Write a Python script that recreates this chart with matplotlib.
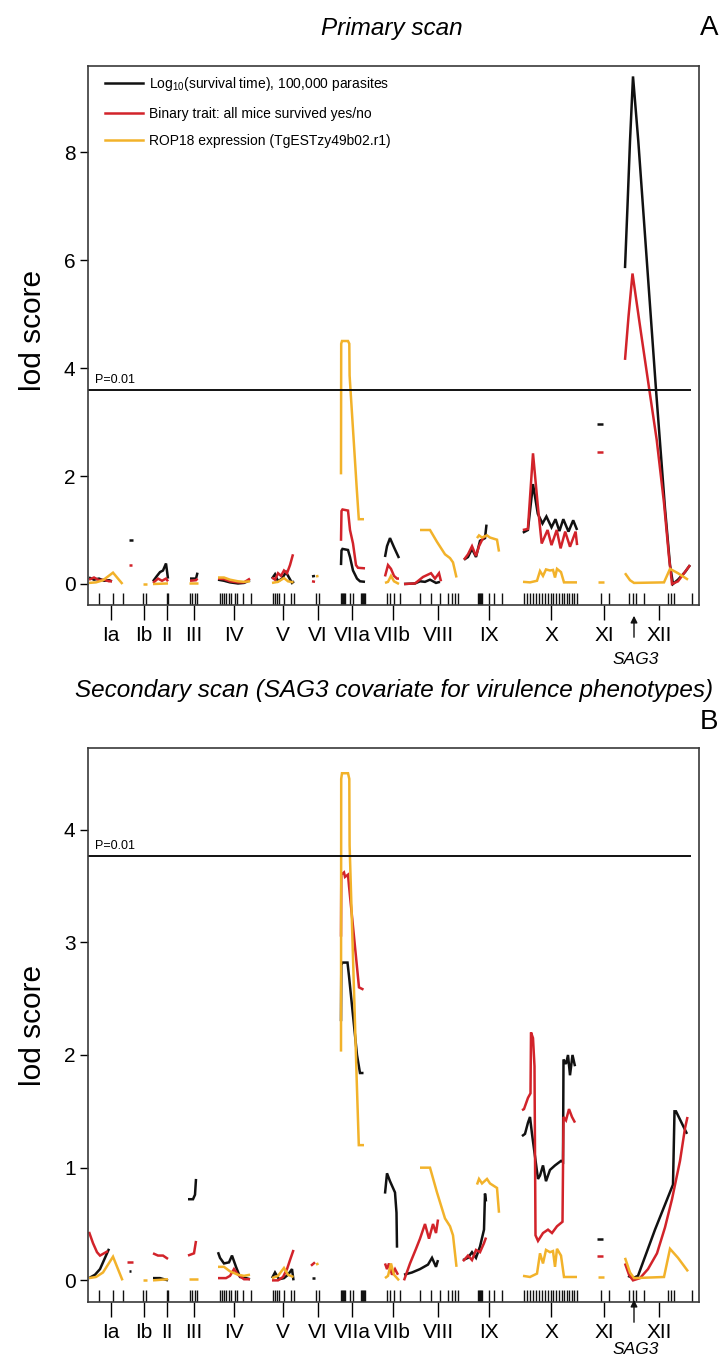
import numpy as np
import matplotlib
matplotlib.use('Agg')
import matplotlib.pyplot as plt
from matplotlib.lines import Line2D
from matplotlib import font_manager

plt.rcParams['font.family'] = ['Liberation Sans', 'DejaVu Sans']
plt.rcParams['mathtext.fontset'] = 'custom'
plt.rcParams['mathtext.rm'] = 'Liberation Sans'

# genome layout (position along the scan, arbitrary map units)
chr_names = ['Ia', 'Ib', 'II', 'III', 'IV', 'V', 'VI', 'VIIa', 'VIIb', 'VIII', 'IX', 'X', 'XI', 'XII']
chr_mid = [111, 144, 167, 193.5, 234, 282.5, 317.5, 352, 392.5, 438, 488.5, 551, 604, 659]
chr_breaks = [125, 149.5, 178, 207.5, 261, 302, 329.5, 374.5, 401.5, 460, 511.5, 587, 616]
markers = [99, 113, 122.5, 143, 146, 166.5, 167.5, 189.5, 192, 194.5, 197,
           220, 222, 224, 226, 228.5, 231, 234.5, 237, 242.5, 250.5,
           272.5, 274.5, 276.5, 278.5, 284, 290.5, 294, 316, 319,
           341, 342, 343, 344, 345, 350, 353, 360.5, 361.5, 362.5, 363.5, 364.5,
           387, 390, 394, 399.5, 420, 430.5, 439.5, 447.5, 451.5, 454.5, 457.5,
           478, 479, 480, 481, 482, 488.5, 494, 501.5,
           523.5, 526.5, 529.5, 532.5, 535.5, 538.5, 541.5, 545, 548, 550.5,
           553, 556, 559, 561.5, 564, 566.5, 569, 571.5, 574, 577,
           601, 609, 629, 633, 635.5, 643.5, 668, 671, 674, 691.5]
sag3_pos = 634

# ROP18 expression (same in both scans)
rop_pos = [89, 96, 103, 113, 122.5,
           143, 147,
           153, 168,
           189, 197.5,
           218, 224, 230, 238, 244, 250,
           272, 278, 284, 288, 293.5,
           316, 318.5,
           341, 341.2, 342, 348, 349.3, 349.6, 356.7, 358.8, 364,
           385, 388, 391, 394, 399,
           420, 430, 437, 445, 450, 453, 456.5,
           477, 479, 482, 487, 490, 497, 499,
           523, 530, 537, 540, 543, 546, 550, 553, 555, 557, 561, 564, 577,
           598, 604,
           625, 630, 634, 664, 670, 678, 688]
rop_lod = [0.02, 0.03, 0.07, 0.21, 0.0,
           0.0, 0.0,
           0.0, 0.01,
           0.01, 0.01,
           0.12, 0.12, 0.08, 0.05, 0.04, 0.05,
           0.02, 0.04, 0.11, 0.05, 0.03,
           0.14, 0.15,
           2.03, 4.45, 4.5, 4.5, 4.45, 3.86, 1.78, 1.2, 1.2,
           0.02, 0.04, 0.15, 0.05, 0.0,
           1.0, 1.0, 0.78, 0.55, 0.48, 0.4, 0.12,
           0.85, 0.9, 0.86, 0.9, 0.86, 0.82, 0.6,
           0.04, 0.03, 0.06, 0.24, 0.15, 0.27, 0.25, 0.26, 0.12, 0.28, 0.22, 0.03, 0.03,
           0.03, 0.03,
           0.2, 0.07, 0.02, 0.03, 0.28, 0.2, 0.08]

# primary scan: log10 survival time
surv_pos_a = [89, 94, 99, 104, 109, 112,
              129, 133,
              153, 157, 160, 163, 166, 168,
              190, 196, 197.5,
              218, 224, 230, 238, 244, 250,
              272, 275, 278, 282, 286, 289, 292, 294,
              312, 315,
              341, 341.5, 342.5, 348, 350, 353, 357, 360, 365,
              385, 387, 390, 394, 399,
              404, 415, 420, 425, 430, 436, 440,
              464, 468, 472, 476, 480, 485, 486.5,
              522.8, 527.9, 533, 537.8, 542.5, 546.4, 551.5, 555.5, 559.4, 563.3, 568.5, 573.2, 577.1,
              597, 603,
              625, 627.5, 630, 633, 638.3, 656, 665, 670, 673, 678, 685, 690]
surv_lod_a = [0.12, 0.08, 0.1, 0.06, 0.07, 0.05,
              0.81, 0.81,
              0.05, 0.15, 0.22, 0.25, 0.38, 0.1,
              0.1, 0.1, 0.21,
              0.08, 0.06, 0.03, 0.01, 0.02, 0.07,
              0.1, 0.18, 0.05, 0.1, 0.22, 0.12, 0.02, 0.05,
              0.14, 0.15,
              0.35, 0.62, 0.65, 0.63, 0.5, 0.25, 0.1, 0.05, 0.04,
              0.5, 0.7, 0.85, 0.68, 0.48,
              0.0, 0.01, 0.05, 0.04, 0.08, 0.02, 0.04,
              0.45, 0.5, 0.65, 0.5, 0.8, 0.85, 1.1,
              0.95, 1.0, 1.85, 1.3, 1.12, 1.25, 1.05, 1.2, 0.98, 1.2, 0.97, 1.18, 1.0,
              2.97, 2.97,
              5.85, 7.0, 8.2, 9.4, 8.2, 3.6, 1.4, 0.35, 0.0, 0.08, 0.22, 0.35]

# primary scan: binary trait
bin_pos_a = [89, 94, 99, 104, 109, 112,
             129, 132,
             153, 158, 162, 166, 168,
             190, 196, 197.5,
             218, 224, 230, 238, 244, 250,
             272, 275, 278, 281, 284, 287, 290, 293,
             312, 315,
             341, 341.5, 342.5, 348, 350, 353, 356, 358, 365,
             385, 388, 391, 394, 397, 399,
             404, 415, 423, 431, 435, 439, 441,
             464, 468, 472, 476, 479, 483, 486,
             522.8, 527.9, 533, 537.8, 541.7, 547.6, 551.5, 556.7, 560.6, 565.2, 570, 575.6, 577.1,
             597, 603,
             625, 628.5, 632.5, 641, 649.3, 656.7, 664, 669, 672, 678, 684, 690]
bin_lod_a = [0.08, 0.12, 0.07, 0.08, 0.05, 0.05,
             0.35, 0.35,
             0.02, 0.1, 0.06, 0.1, 0.05,
             0.06, 0.07, 0.1,
             0.1, 0.09, 0.05, 0.03, 0.03, 0.1,
             0.12, 0.08, 0.2, 0.15, 0.25, 0.2, 0.35, 0.55,
             0.05, 0.04,
             0.8, 1.35, 1.38, 1.36, 1.0, 0.75, 0.35, 0.3, 0.29,
             0.14, 0.35, 0.28, 0.15, 0.1, 0.1,
             0.0, 0.01, 0.13, 0.2, 0.1, 0.2, 0.05,
             0.45, 0.55, 0.7, 0.52, 0.7, 0.85, 0.9,
             1.0, 1.02, 2.42, 1.45, 0.75, 1.0, 0.72, 1.0, 0.66, 0.97, 0.69, 0.97, 0.72,
             2.45, 2.45,
             4.15, 4.95, 5.75, 4.65, 3.6, 2.67, 1.5, 0.5, 0.0, 0.05, 0.2, 0.35]

# secondary scan (SAG3 covariate): log10 survival time
surv_pos_b = [89, 95, 100, 105, 109,
              129, 131,
              153, 160, 168,
              188, 193, 195, 196,
              218, 220, 224, 229, 232, 236, 240, 246, 250,
              272, 275, 279, 284, 288, 292, 293.5,
              312, 314.5,
              341, 341.3, 342.5, 347.5, 349, 357, 360, 363.5,
              385, 387, 390, 395, 396.5, 397,
              404, 412, 420, 428, 432, 436, 438,
              463, 468, 472, 476, 480, 484, 485, 486,
              522, 525, 528, 530, 532, 535, 538, 540, 543, 546, 550, 555, 561, 563, 563.5, 566, 568, 570, 572.5, 575,
              597, 603,
              628, 633, 638, 655, 673, 674.5, 676, 687]
surv_lod_b = [0.02, 0.05, 0.1, 0.2, 0.28,
              0.08, 0.08,
              0.02, 0.02, 0.0,
              0.72, 0.72, 0.76, 0.9,
              0.25, 0.2, 0.15, 0.16, 0.22, 0.12, 0.03, 0.02, 0.01,
              0.02, 0.07, 0.01, 0.02, 0.05, 0.1, 0.0,
              0.02, 0.02,
              2.3, 2.8, 2.82, 2.82, 2.7, 2.0, 1.84, 1.84,
              0.77, 0.95, 0.88, 0.78, 0.6, 0.29,
              0.05, 0.07, 0.1, 0.14, 0.2, 0.12, 0.18,
              0.18, 0.2, 0.25, 0.2, 0.3, 0.45, 0.77, 0.7,
              1.28, 1.3, 1.4, 1.45, 1.3, 1.1, 0.9, 0.93, 1.02, 0.88, 0.98, 1.02, 1.06, 1.05, 1.96, 1.92, 2.0, 1.82, 2.0, 1.9,
              0.37, 0.37,
              0.04, 0.02, 0.04, 0.45, 0.85, 1.5, 1.5, 1.3]

# secondary scan (SAG3 covariate): binary trait
bin_pos_b = [89, 93, 97, 100, 104, 108,
             127, 133,
             153, 158, 163, 168,
             188, 194, 196,
             218, 226, 230, 234, 238, 244, 250,
             272, 278, 283, 287, 290, 293.5,
             311, 315,
             341, 341.3, 344, 345, 348, 349, 359, 363.5,
             385, 387, 389, 392, 395, 398,
             404, 410, 416, 420, 425, 429, 433, 436, 438,
             463, 468, 472, 476, 480, 484, 486,
             522, 524, 528, 530.5, 531, 533, 534.5, 535.5, 538, 543, 548, 552, 557, 562.5, 563.5, 566, 569, 572, 575,
             597, 603,
             625, 629, 633, 640, 648, 657, 665, 672, 680, 685, 687.5]
bin_lod_b = [0.43, 0.33, 0.25, 0.22, 0.24, 0.26,
             0.16, 0.16,
             0.24, 0.22, 0.22, 0.19,
             0.22, 0.24, 0.35,
             0.02, 0.02, 0.04, 0.1, 0.05, 0.01, 0.01,
             0.0, 0.0, 0.03, 0.1, 0.18, 0.27,
             0.13, 0.16,
             3.05, 3.6, 3.62, 3.58, 3.6, 3.5, 2.6, 2.58,
             0.15, 0.1, 0.15, 0.05, 0.1, 0.05,
             0.0, 0.15, 0.28, 0.37, 0.5, 0.37, 0.5, 0.42, 0.54,
             0.17, 0.22, 0.18, 0.27, 0.25, 0.33, 0.38,
             1.51, 1.52, 1.62, 1.66, 2.2, 2.15, 1.9, 0.4, 0.35, 0.42, 0.45, 0.42, 0.48, 0.52, 1.45, 1.42, 1.52, 1.45, 1.4,
             0.22, 0.22,
             0.15, 0.05, 0.0, 0.02, 0.1, 0.24, 0.47, 0.72, 1.06, 1.35, 1.45]

thresh_a = 3.6
thresh_b = 3.77

legend_labels = ['Log$_{\\mathregular{10}}$(survival time), 100,000 parasites',
                 'Binary trait: all mice survived yes/no',
                 'ROP18 expression (TgESTzy49b02.r1)']

BLACK = '#111111'
RED = '#d2232a'
GOLD = '#f2b22a'
LW = 1.8

# legend text in the original is a narrow face; use it if present
have_narrow = any(f.name == 'Liberation Sans Narrow' for f in font_manager.fontManager.ttflist)
if have_narrow:
    legend_font = {'family': ['Liberation Sans Narrow', 'DejaVu Sans'], 'size': 12.5}
else:
    legend_font = {'family': ['Liberation Sans', 'DejaVu Sans'], 'size': 10}


def draw_trace(ax, pos, lod, color):
    # one line per chromosome, broken between chromosomes
    pos = np.array(pos)
    lod = np.array(lod)
    chrom = np.searchsorted(chr_breaks, pos)
    for c in np.unique(chrom):
        sel = chrom == c
        ax.plot(pos[sel], lod[sel], color=color, lw=LW, solid_joinstyle='miter',
                solid_capstyle='butt')


def setup_axes(ax, ylim, yticks, thresh, rug_h, arrow_tip, arrow_base, sag_y):
    ax.set_xlim(88, 699)
    ax.set_ylim(ylim)
    ax.set_yticks(yticks)
    ax.set_xticks(chr_mid, chr_names)
    ax.tick_params(axis='x', length=11, width=1, pad=4, labelsize=15)
    ax.tick_params(axis='y', length=6, width=1, pad=3, labelsize=15)
    for s in ax.spines.values():
        s.set_color('#3a3a3a')
        s.set_linewidth(1.2)

    # marker rug
    ax.vlines(markers, 0, rug_h, transform=ax.get_xaxis_transform(), color=BLACK, lw=1)

    # significance threshold
    ax.hlines(thresh, 88, 691, color=BLACK, lw=1.4)
    ax.text(95, thresh + 0.007 * (ylim[1] - ylim[0]), 'P=0.01', fontsize=9, va='bottom', ha='left')

    # SAG3 arrow
    tr = ax.get_xaxis_transform()
    ax.annotate('', xy=(sag3_pos, arrow_tip), xycoords=tr, xytext=(sag3_pos, arrow_base),
                textcoords=tr, annotation_clip=False,
                arrowprops=dict(arrowstyle='-|>', color=BLACK, lw=1, mutation_scale=10))
    ax.text(sag3_pos + 2, sag_y, 'SAG3', transform=tr, fontsize=12.5, style='italic',
            ha='center', va='center', clip_on=False)


W, H = 722, 1360
fig = plt.figure(figsize=(W / 100, H / 100), dpi=100)

# panel A
ax_a = fig.add_axes([88 / W, 1 - 605 / H, 611 / W, 539 / H])
draw_trace(ax_a, surv_pos_a, surv_lod_a, BLACK)
draw_trace(ax_a, bin_pos_a, bin_lod_a, RED)
draw_trace(ax_a, rop_pos, rop_lod, GOLD)
setup_axes(ax_a, (-0.389, 9.593), [0, 2, 4, 6, 8], thresh_a, 12 / 539,
           -8 / 539, -35 / 539, -54 / 539)

handles = [Line2D([], [], color=c, lw=LW) for c in (BLACK, RED, GOLD)]
ax_a.legend(handles, legend_labels, loc='upper left', bbox_to_anchor=(0.018, 0.993),
            frameon=False, prop=legend_font, handlelength=2.8, handletextpad=0.4,
            labelspacing=0.95, borderaxespad=0)

# panel B
ax_b = fig.add_axes([88 / W, 1 - 1302 / H, 611 / W, 554 / H])
draw_trace(ax_b, surv_pos_b, surv_lod_b, BLACK)
draw_trace(ax_b, bin_pos_b, bin_lod_b, RED)
draw_trace(ax_b, rop_pos, rop_lod, GOLD)
setup_axes(ax_b, (-0.192, 4.724), [0, 1, 2, 3, 4], thresh_b, 12 / 554,
           5 / 554, -23 / 554, -48 / 554)

# titles, panel letters, axis labels
fig.text(392 / W, 1 - 28 / H, 'Primary scan', fontsize=17.5, style='italic', ha='center', va='center')
fig.text(709 / W, 1 - 28 / H, 'A', fontsize=20, ha='center', va='center')
fig.text(394 / W, 1 - 690 / H, 'Secondary scan (SAG3 covariate for virulence phenotypes)',
         fontsize=17.5, style='italic', ha='center', va='center')
fig.text(709 / W, 1 - 722 / H, 'B', fontsize=20, ha='center', va='center')
fig.text(33 / W, 1 - 330 / H, 'lod score', fontsize=21.5, rotation=90, ha='center', va='center')
fig.text(33 / W, 1 - 1025 / H, 'lod score', fontsize=21.5, rotation=90, ha='center', va='center')

fig.savefig('out.png', dpi=100, facecolor='white')
